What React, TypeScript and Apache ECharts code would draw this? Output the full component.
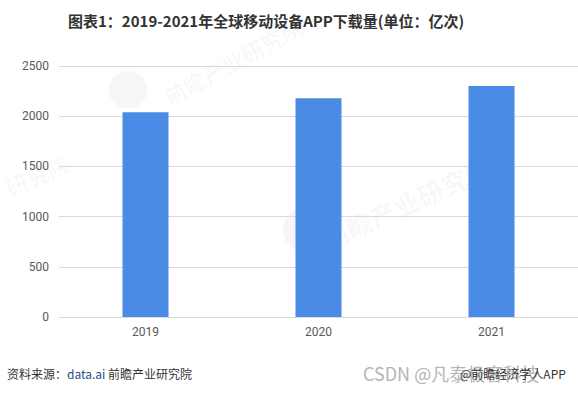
import React, { useEffect, useRef } from "react";
import * as echarts from "echarts";

const categories = ["2019", "2020", "2021"];
const downloads = [2040, 2180, 2300];
const yTicks = { min: 0, max: 2500, interval: 500 };

const titleText = "图表1：2019-2021年全球移动设备APP下载量(单位：亿次)";
const sourceLabel = "资料来源：";
const sourceMain = "data.ai";
const sourceTail = " 前瞻产业研究院";
const csdnMark = "CSDN @凡泰极客科技";
const qzMark = "@前瞻经济学人APP";

export default function App() {
  const ref = useRef<HTMLDivElement>(null);
  useEffect(() => {
    if (!ref.current) return;
    const chart = echarts.init(ref.current, undefined, { renderer: "svg" });
    const font = "'Noto Sans CJK SC', 'Noto Sans', sans-serif";
    chart.setOption({
      animation: false,
      grid: { left: 59, top: 66, width: 522, height: 251, containLabel: false },
      xAxis: {
        type: "category",
        data: categories,
        axisLine: { lineStyle: { color: "#d9d9d9" } },
        axisTick: { show: false },
        axisLabel: { color: "#595959", fontSize: 12, margin: 9, fontFamily: "Roboto, sans-serif" },
      },
      yAxis: {
        type: "value",
        min: yTicks.min,
        max: yTicks.max,
        interval: yTicks.interval,
        axisLine: { show: false },
        axisTick: { show: false },
        axisLabel: {
          color: "#595959", fontSize: 12, margin: 10, fontFamily: "Roboto, sans-serif",
          formatter: (v: number) => String(v),
        },
        splitLine: { lineStyle: { color: "#d9d9d9" } },
      },
      series: [
        {
          type: "bar",
          data: downloads,
          barWidth: 46,
          itemStyle: { color: "#4A8BE5" },
          z: 2,
        },
      ],
      graphic: [
        // faint watermarks
        { type: "circle", shape: { cx: 128, cy: 90, r: 19 }, style: { fill: "rgba(0,0,0,0.035)" }, z: 0, silent: true },
        {
          type: "text", x: 160, y: 88, rotation: 0.5, z: 0, silent: true,
          style: { text: "前瞻产业研究院", fontSize: 22, fontWeight: "bold", fontFamily: font, fill: "rgba(0,0,0,0.03)" },
        },
        { type: "circle", shape: { cx: 305, cy: 230, r: 22 }, style: { fill: "rgba(0,0,0,0.035)" }, z: 0, silent: true },
        {
          type: "text", x: 318, y: 228, rotation: 0.42, z: 0, silent: true,
          style: { text: "前瞻产业研究院", fontSize: 26, fontWeight: "bold", fontFamily: font, fill: "rgba(0,0,0,0.035)" },
        },
        {
          type: "text", x: 2, y: 178, rotation: 0.42, z: 0, silent: true,
          style: { text: "研究院", fontSize: 22, fontWeight: "bold", fontFamily: font, fill: "rgba(0,0,0,0.03)" },
        },
        // title
        {
          type: "text", x: 68, y: 20,
          style: {
            text: titleText, fontSize: 15, fontWeight: "bold", fontFamily: font,
            fill: "#333333", textVerticalAlign: "middle",
          },
        },
        // footer source
        {
          type: "text", x: 7, y: 373,
          style: {
            text: `{a|${sourceLabel}}{b|${sourceMain}}{a|${sourceTail}}`,
            textVerticalAlign: "middle",
            rich: {
              a: { fontSize: 12, fontFamily: font, fill: "#333333", color: "#333333" },
              b: { fontSize: 12, fontFamily: font, fill: "#2a4a8a", color: "#2a4a8a" },
            },
          },
        },
        {
          type: "text", x: 363, y: 373,
          style: { text: csdnMark, fontSize: 18, fontFamily: font, fill: "#b5b5b5", textVerticalAlign: "middle" },
        },
        {
          type: "text", x: 460, y: 373,
          style: { text: qzMark, fontSize: 12, fontFamily: font, fill: "#333333", textVerticalAlign: "middle" },
        },
      ],
    });
    return () => chart.dispose();
  }, []);
  return (
    <div
      ref={ref}
      style={{ position: "absolute", left: 0, top: 0, width: 578, height: 393, background: "#ffffff" }}
    />
  );
}
